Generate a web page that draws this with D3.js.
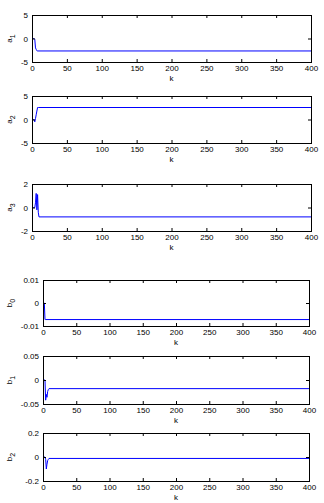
<!DOCTYPE html>
<html>
<head>
<meta charset="utf-8">
<script src="https://cdn.jsdelivr.net/npm/d3@7"></script>
<style>
body { margin: 0; background: #fff; }
text { font-family: "Liberation Sans", Arial, sans-serif; font-size: 8px; fill: #000; }
</style>
</head>
<body>
<svg id="chart" width="324" height="503"></svg>
<script>
// sample index k and estimated parameter values (transient, then flat to k=400)
var kTicks = [0, 50, 100, 150, 200, 250, 300, 350, 400];

var a1K = [1, 2, 3, 4, 5, 6, 7, 8, 400];
var a1V = [0, 0, 0, -0.2, -2.0, -2.3, -2.6, -2.65, -2.65];

var a2K = [1, 2, 3, 4, 5, 6, 7, 8, 9, 400];
var a2V = [0, 0, 0, -0.5, 0.2, 1.0, 1.8, 2.55, 2.55, 2.55];

var a3K = [1, 2, 3, 4, 5, 6, 7, 8, 9, 10, 400];
var a3V = [0, 0, 0, 0, 0.4, 1.2, -0.2, 1.1, -0.4, -0.8, -0.8];

var b0K = [1, 2, 3, 4, 400];
var b0V = [0, 0, -0.0072, -0.0072, -0.0072];

var b1K = [1, 2, 3, 4, 5, 6, 7, 8, 9, 400];
var b1V = [0, 0, 0, -0.042, -0.03, -0.036, -0.024, -0.02, -0.018, -0.018];

var b2K = [1, 2, 3, 4, 5, 6, 7, 8, 9, 400];
var b2V = [0, 0, 0, -0.02, -0.1, -0.06, -0.03, -0.02, -0.012, -0.012];

var panels = [
  {name: "a", sub: "1", k: a1K, v: a1V, dom: [-5, 5], ticks: [-5, 0, 5], top: 15, bottom: 62, left: 32, right: 311},
  {name: "a", sub: "2", k: a2K, v: a2V, dom: [-5, 5], ticks: [-5, 0, 5], top: 96, bottom: 143, left: 32, right: 311},
  {name: "a", sub: "3", k: a3K, v: a3V, dom: [-2, 2], ticks: [-2, 0, 2], top: 184, bottom: 231, left: 32, right: 311},
  {name: "b", sub: "0", k: b0K, v: b0V, dom: [-0.01, 0.01], ticks: [-0.01, 0, 0.01], top: 280, bottom: 326, left: 43, right: 309},
  {name: "b", sub: "1", k: b1K, v: b1V, dom: [-0.05, 0.05], ticks: [-0.05, 0, 0.05], top: 356, bottom: 404, left: 43, right: 309},
  {name: "b", sub: "2", k: b2K, v: b2V, dom: [-0.2, 0.2], ticks: [-0.2, 0, 0.2], top: 433, bottom: 481, left: 43, right: 309}
];

var svg = d3.select("#chart");
var fmt = function(d) { return String(d); };

panels.forEach(function(p) {
  var x = d3.scaleLinear().domain([0, 400]).range([p.left, p.right]);
  var y = d3.scaleLinear().domain(p.dom).range([p.bottom, p.top]);
  var g = svg.append("g");

  // line
  var pts = p.k.map(function(k, i) { return [k, p.v[i]]; });
  g.append("path")
    .datum(pts)
    .attr("fill", "none")
    .attr("stroke", "#0000ff")
    .attr("stroke-width", 1)
    .attr("d", d3.line().x(function(d) { return x(d[0]); }).y(function(d) { return y(d[1]); }));

  // axes, ticks inward
  var bx = g.append("g").attr("transform", "translate(0," + p.bottom + ")")
    .call(d3.axisBottom(x).tickValues(kTicks).tickFormat(fmt).tickSizeInner(-3).tickSizeOuter(0).tickPadding(3));
  var tx = g.append("g").attr("transform", "translate(0," + p.top + ")")
    .call(d3.axisTop(x).tickValues(kTicks).tickFormat("").tickSizeInner(-3).tickSizeOuter(0));
  var ly = g.append("g").attr("transform", "translate(" + p.left + ",0)")
    .call(d3.axisLeft(y).tickValues(p.ticks).tickFormat(fmt).tickSizeInner(-3).tickSizeOuter(0).tickPadding(4));
  var ry = g.append("g").attr("transform", "translate(" + p.right + ",0)")
    .call(d3.axisRight(y).tickValues(p.ticks).tickFormat("").tickSizeInner(-3).tickSizeOuter(0));
  g.selectAll(".domain").remove();
  g.selectAll(".tick line").attr("stroke", "#000");
  g.selectAll(".tick text").style("font-size", "8px").attr("fill", "#000");

  // box
  g.append("rect")
    .attr("x", p.left).attr("y", p.top)
    .attr("width", p.right - p.left).attr("height", p.bottom - p.top)
    .attr("fill", "none").attr("stroke", "#000").attr("stroke-width", 1)
    .attr("shape-rendering", "crispEdges");

  // labels
  g.append("text")
    .attr("x", (p.left + p.right) / 2).attr("y", p.bottom + 19)
    .attr("text-anchor", "middle").text("k");

  var yl = g.append("text")
    .attr("transform", "translate(12," + (p.top + p.bottom) / 2 + ") rotate(-90)")
    .attr("text-anchor", "middle");
  yl.append("tspan").text(p.name);
  yl.append("tspan").attr("dy", 3).style("font-size", "7px").text(p.sub);
});
</script>
</body>
</html>
